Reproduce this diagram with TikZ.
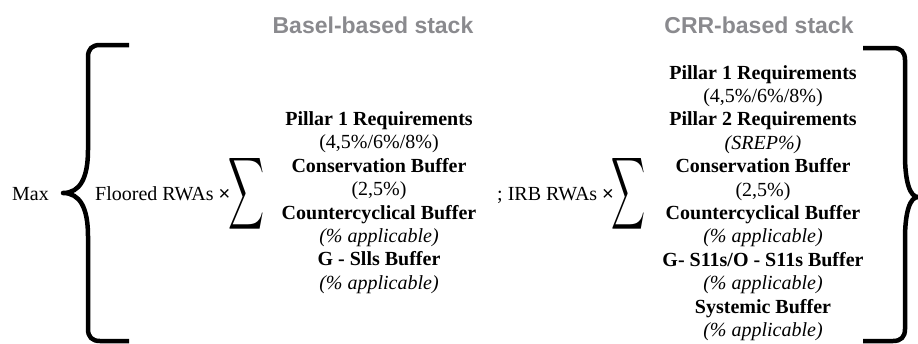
\documentclass[tikz,border=0pt]{standalone}
\usepackage{fontspec}
\usepackage{graphicx}
\setmainfont{Liberation Serif}
\newfontfamily\headfont{Liberation Sans}
\definecolor{headgray}{RGB}{138,138,142}
\newcommand{\mytimes}{{\headfont ×}}
\begin{document}
\begin{tikzpicture}[x=1pt,y=-1pt,
  txt/.style={inner sep=0pt, font=\fontsize{20}{23.4}\selectfont},
  stack/.style={txt, align=center},
  head/.style={inner sep=0pt, font=\headfont\bfseries\fontsize{23}{27}\selectfont, text=headgray},
  bracepath/.style={line width=4.5pt, line cap=butt, line join=round},
  sumsign/.style={inner sep=0pt}]
\useasboundingbox (0,0) rectangle (918,343);
\node[head] (h1) at (373,25) {Basel-based stack};
\node[head] (h2) at (759,25) {CRR-based stack};
\node[txt, anchor=base west] (max) at (12,200) {Max};
\node[txt, anchor=base west] (fl) at (95,200) {Floored RWAs \mytimes};
\node[sumsign] (s1) at (247,193.5) {\resizebox{36pt}{53pt}{$\displaystyle\sum$}};
\node[stack] (basel) at (379,202.5) {\textbf{Pillar 1 Requirements}\\(4,5\%/6\%/8\%)\\\textbf{Conservation Buffer}\\(2,5\%)\\\textbf{Countercyclical Buffer}\\\textit{(\% applicable)}\\\textbf{G - Slls Buffer}\\\textit{(\% applicable)}};
\node[txt, anchor=base west] (irb) at (497,200) {;\ IRB RWAs \mytimes};
\node[sumsign] (s2) at (628,193.5) {\resizebox{34pt}{53pt}{$\displaystyle\sum$}};
\node[stack] (crr) at (763,203) {\textbf{Pillar 1 Requirements}\\(4,5\%/6\%/8\%)\\\textbf{Pillar 2 Requirements}\\\textit{(SREP\%)}\\\textbf{Conservation Buffer}\\(2,5\%)\\\textbf{Countercyclical Buffer}\\\textit{(\% applicable)}\\\textbf{G- S11s/O - S11s Buffer}\\\textit{(\% applicable)}\\\textbf{Systemic Buffer}\\\textit{(\% applicable)}};
\draw[bracepath] (129,45) -- (100,45) .. controls (92,45) and (88,49) .. (88,57) -- (88,150) .. controls (88,178) and (80,193) .. (63,193) .. controls (80,193) and (88,208) .. (88,236) -- (88,329) .. controls (88,337) and (92,341) .. (100,341) -- (129,341);
\draw[bracepath] (863,48) -- (893,48) .. controls (901,48) and (905,52) .. (905,60) -- (905,155) .. controls (905,182) and (910,197) .. (918,197) .. controls (910,197) and (905,212) .. (905,239) -- (905,329) .. controls (905,337) and (901,341) .. (893,341) -- (863,341);
\end{tikzpicture}
\end{document}
